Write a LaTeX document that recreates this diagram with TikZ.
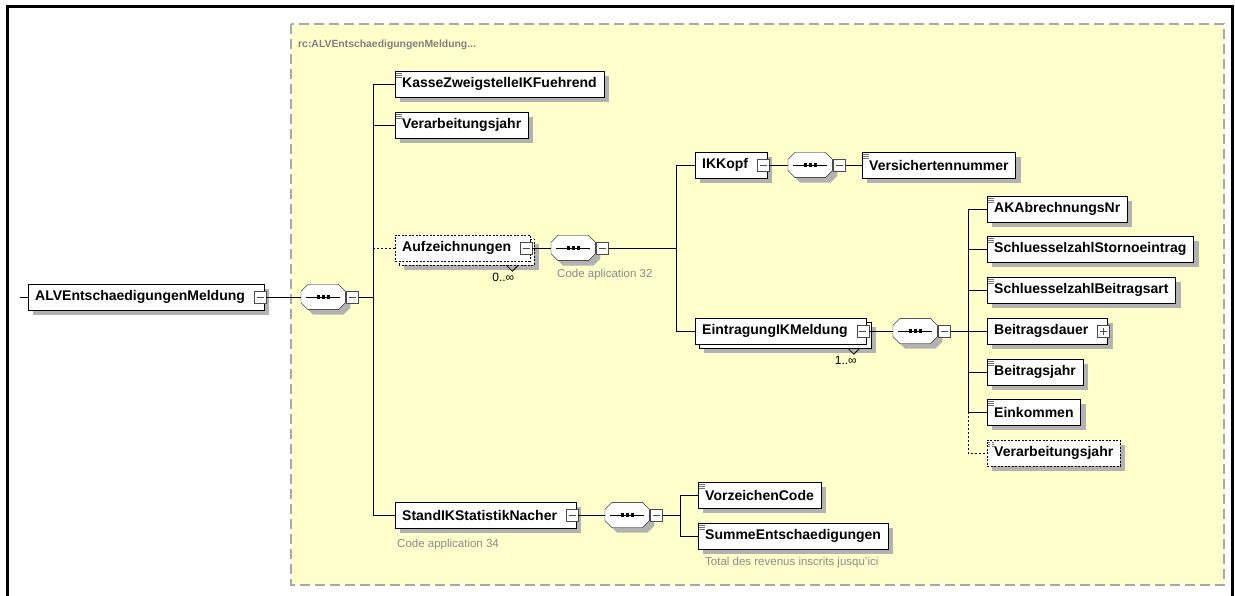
\documentclass[tikz,border=0pt]{standalone}
\usepackage{fontspec}
\setmainfont{Liberation Sans}

\definecolor{schemayellow}{RGB}{255,255,204}
\definecolor{frameline}{RGB}{168,168,168}
\definecolor{notegray}{RGB}{140,140,140}

\pgfdeclarelayer{back}
\pgfdeclarelayer{shadowlayer}
\pgfsetlayers{back,shadowlayer,main}

\tikzset{
  elem/.style={draw=black,fill=white,anchor=west,inner xsep=7pt,inner ysep=0pt,
    minimum height=26pt,font=\fontsize{14}{16}\selectfont\bfseries},
  simple/.style={elem,path picture={
      \foreach \k in {2,4,6}
        \draw[black!55,line width=.8pt] ([xshift=1pt,yshift=-\k pt]path picture bounding box.north west) -- ++(6pt,0);}},
  cplx/.style={elem,execute at end node={\hspace*{12pt}}},
  opt/.style={dash pattern=on 2pt off 1.5pt},
  boxshade/.style={fill=black!30,draw=none},
  seqcore/.style={anchor=west,minimum width=44pt,minimum height=25pt,inner sep=0pt},
  collbox/.style={draw=black!70,fill=white,minimum size=12pt,inner sep=0pt,
    path picture={\draw[black!70] ([xshift=2.5pt]path picture bounding box.west) -- ([xshift=-2.5pt]path picture bounding box.east);}},
  expbox/.style={draw=black!70,fill=white,minimum size=12pt,inner sep=0pt,
    path picture={\draw[black!70] ([xshift=2.5pt]path picture bounding box.west) -- ([xshift=-2.5pt]path picture bounding box.east);
      \draw[black!70] ([yshift=2.5pt]path picture bounding box.south) -- ([yshift=-2.5pt]path picture bounding box.north);}},
  note/.style={anchor=west,text=notegray,inner sep=0pt,font=\fontsize{11.5}{13}\selectfont},
  multi/.style={anchor=north,inner sep=0pt,font=\fontsize{12}{14}\selectfont},
  tree/.style={line width=.8pt},
  opttree/.style={tree,dash pattern=on 2pt off 2pt}
}

% octagon outline of a sequence node
\newcommand\octpath[1]{([xshift=7pt]#1.north west) -- ([xshift=-7pt]#1.north east) -- ([yshift=-7pt]#1.north east)
  -- ([yshift=7pt]#1.south east) -- ([xshift=-7pt]#1.south east) -- ([xshift=7pt]#1.south west)
  -- ([yshift=7pt]#1.south west) -- ([yshift=-7pt]#1.north west) -- cycle}
% sequence compositor: name, position
\newcommand\seqnode[2]{%
  \node[seqcore] (#1) at (#2) {};
  \fill[boxshade,transform canvas={shift={(5pt,-5pt)}}] \octpath{#1};
  \draw[fill=white] \octpath{#1};
  \draw[line width=.8pt] ([xshift=5pt]#1.west) -- ([xshift=-5pt]#1.east);
  \foreach \d in {-5,0,5}
    \fill ([xshift=\d pt]#1.center) +(-1.6pt,-1.6pt) rectangle +(1.6pt,1.6pt);
  \node[collbox,anchor=west] (#1-c) at ([xshift=1pt]#1.east) {};
}

\begin{document}
\begin{tikzpicture}[x=1pt,y=-1pt]
  \useasboundingbox (0,0) rectangle (1235,596);

  % frame and schema area
  \begin{pgfonlayer}{back}
    \draw[line width=3pt] (7,596) -- (7,7) -- (1232,7) -- (1232,596);
    \path[fill=schemayellow,draw=frameline,line width=1.5pt,dash pattern=on 10pt off 5pt] (291,24) rectangle (1224,585);
  \end{pgfonlayer}
  \node[anchor=west,inner sep=0pt,text=black!50,font=\fontsize{10.4}{12}\selectfont\bfseries] (title) at (298,45) {rc:ALVEntschaedigungenMeldung...};

  % root element
  \coordinate (in) at (20,297);
  \node[cplx] (root) at (28,297) {ALVEntschaedigungenMeldung};
  \node[collbox] (root-c) at ([xshift=-4pt]root.east) {};
  \seqnode{s0}{301,297}
  \coordinate (t0) at (373,297);
  \draw[tree] (in) -- (root);
  \draw[tree] (root-c) -- (s0);
  \draw[tree] (s0-c) -- (t0);

  % first level
  \node[simple] (kasse) at (395,84) {KasseZweigstelleIKFuehrend};
  \node[simple] (vj1) at (395,125) {Verarbeitungsjahr};
  \node[cplx,opt] (aufz) at (395,248) {Aufzeichnungen};
  \node[collbox] (aufz-c) at ([xshift=-4pt]aufz.east) {};
  \node[cplx] (stand) at (395,515) {StandIKStatistikNacher};
  \node[collbox] (stand-c) at ([xshift=-4pt]stand.east) {};
  \draw[tree] (t0 |- kasse) -- (t0 |- stand);
  \draw[tree] (t0 |- kasse) -- (kasse);
  \draw[tree] (t0 |- vj1) -- (vj1);
  \draw[opttree] (t0 |- aufz) -- (aufz);
  \draw[tree] (t0 |- stand) -- (stand);
  \draw[tree] ([xshift=-24pt,yshift=-4pt]aufz.south east) -- ++(6pt,-6pt) -- ++(6pt,6pt);
  \node[multi] (aufz-m) at ([xshift=-27pt,yshift=-12pt]aufz.south east) {0..∞};

  % Aufzeichnungen content
  \seqnode{s1}{551,248}
  \node[note] (s1-n) at (557,275) {Code aplication 32};
  \coordinate (t1) at (676,248);
  \draw[tree] (aufz-c) -- (s1);
  \draw[tree] (s1-c) -- (t1);
  \node[cplx] (ikkopf) at (695,165) {IKKopf};
  \node[collbox] (ikkopf-c) at ([xshift=-4pt]ikkopf.east) {};
  \node[cplx] (eintrag) at (695,331) {EintragungIKMeldung};
  \node[collbox] (eintrag-c) at ([xshift=-4pt]eintrag.east) {};
  \draw[tree] (t1 |- ikkopf) -- (t1 |- eintrag);
  \draw[tree] (t1 |- ikkopf) -- (ikkopf);
  \draw[tree] (t1 |- eintrag) -- (eintrag);
  \draw[tree] ([xshift=-19pt,yshift=-4pt]eintrag.south east) -- ++(6pt,-6pt) -- ++(6pt,6pt);
  \node[multi] (eintrag-m) at ([xshift=-21pt,yshift=-12pt]eintrag.south east) {1..∞};

  % IKKopf content
  \seqnode{s2}{788,165}
  \node[simple] (versnr) at (862,165) {Versichertennummer};
  \draw[tree] (ikkopf-c) -- (s2);
  \draw[tree] (s2-c) -- (versnr);

  % EintragungIKMeldung content
  \seqnode{s3}{893,331}
  \coordinate (t2) at (968,331);
  \draw[tree] (eintrag-c) -- (s3);
  \draw[tree] (s3-c) -- (t2);
  \node[simple] (akab) at (987,209) {AKAbrechnungsNr};
  \node[simple] (storno) at (987,249) {SchluesselzahlStornoeintrag};
  \node[simple] (bart) at (987,290) {SchluesselzahlBeitragsart};
  \node[cplx] (bdauer) at (987,331) {Beitragsdauer};
  \node[expbox] (bdauer-c) at ([xshift=-4pt]bdauer.east) {};
  \node[simple] (bjahr) at (987,372) {Beitragsjahr};
  \node[simple] (eink) at (987,412) {Einkommen};
  \node[simple,opt] (vj2) at (987,453) {Verarbeitungsjahr};
  \draw[tree] (t2 |- akab) -- (t2 |- eink);
  \draw[opttree] (t2 |- eink) -- (t2 |- vj2) -- (vj2);
  \foreach \n in {akab,storno,bart,bdauer,bjahr,eink}
    \draw[tree] (t2 |- \n) -- (\n);

  % StandIKStatistikNacher content
  \node[note] (stand-n) at (397,545) {Code application 34};
  \seqnode{s4}{605,515}
  \coordinate (t3) at (680,515);
  \draw[tree] (stand-c) -- (s4);
  \draw[tree] (s4-c) -- (t3);
  \node[simple] (vzc) at (698,495) {VorzeichenCode};
  \node[simple] (summe) at (698,536) {SummeEntschaedigungen};
  \node[note] (summe-n) at (705,563) {Total des revenus inscrits jusqu'ici};
  \draw[tree] (t3 |- vzc) -- (t3 |- summe);
  \draw[tree] (t3 |- vzc) -- (vzc);
  \draw[tree] (t3 |- summe) -- (summe);

  % shadows and stacked copies
  \begin{pgfonlayer}{shadowlayer}
    \foreach \n in {root,kasse,vj1,stand,ikkopf,versnr,akab,storno,bart,bdauer,bjahr,eink,vj2,vzc,summe}
      \path[boxshade] ([xshift=5pt,yshift=-5pt]\n.south west) rectangle ([xshift=5pt,yshift=-5pt]\n.north east);
    \foreach \n in {aufz,eintrag}
      \path[boxshade] ([xshift=9pt,yshift=-9pt]\n.south west) rectangle ([xshift=9pt,yshift=-9pt]\n.north east);
    \draw[fill=white,opt] ([xshift=4pt,yshift=-4pt]aufz.south west) rectangle ([xshift=4pt,yshift=-4pt]aufz.north east);
    \draw[fill=white] ([xshift=4pt,yshift=-4pt]eintrag.south west) rectangle ([xshift=4pt,yshift=-4pt]eintrag.north east);
  \end{pgfonlayer}
\end{tikzpicture}
\end{document}
